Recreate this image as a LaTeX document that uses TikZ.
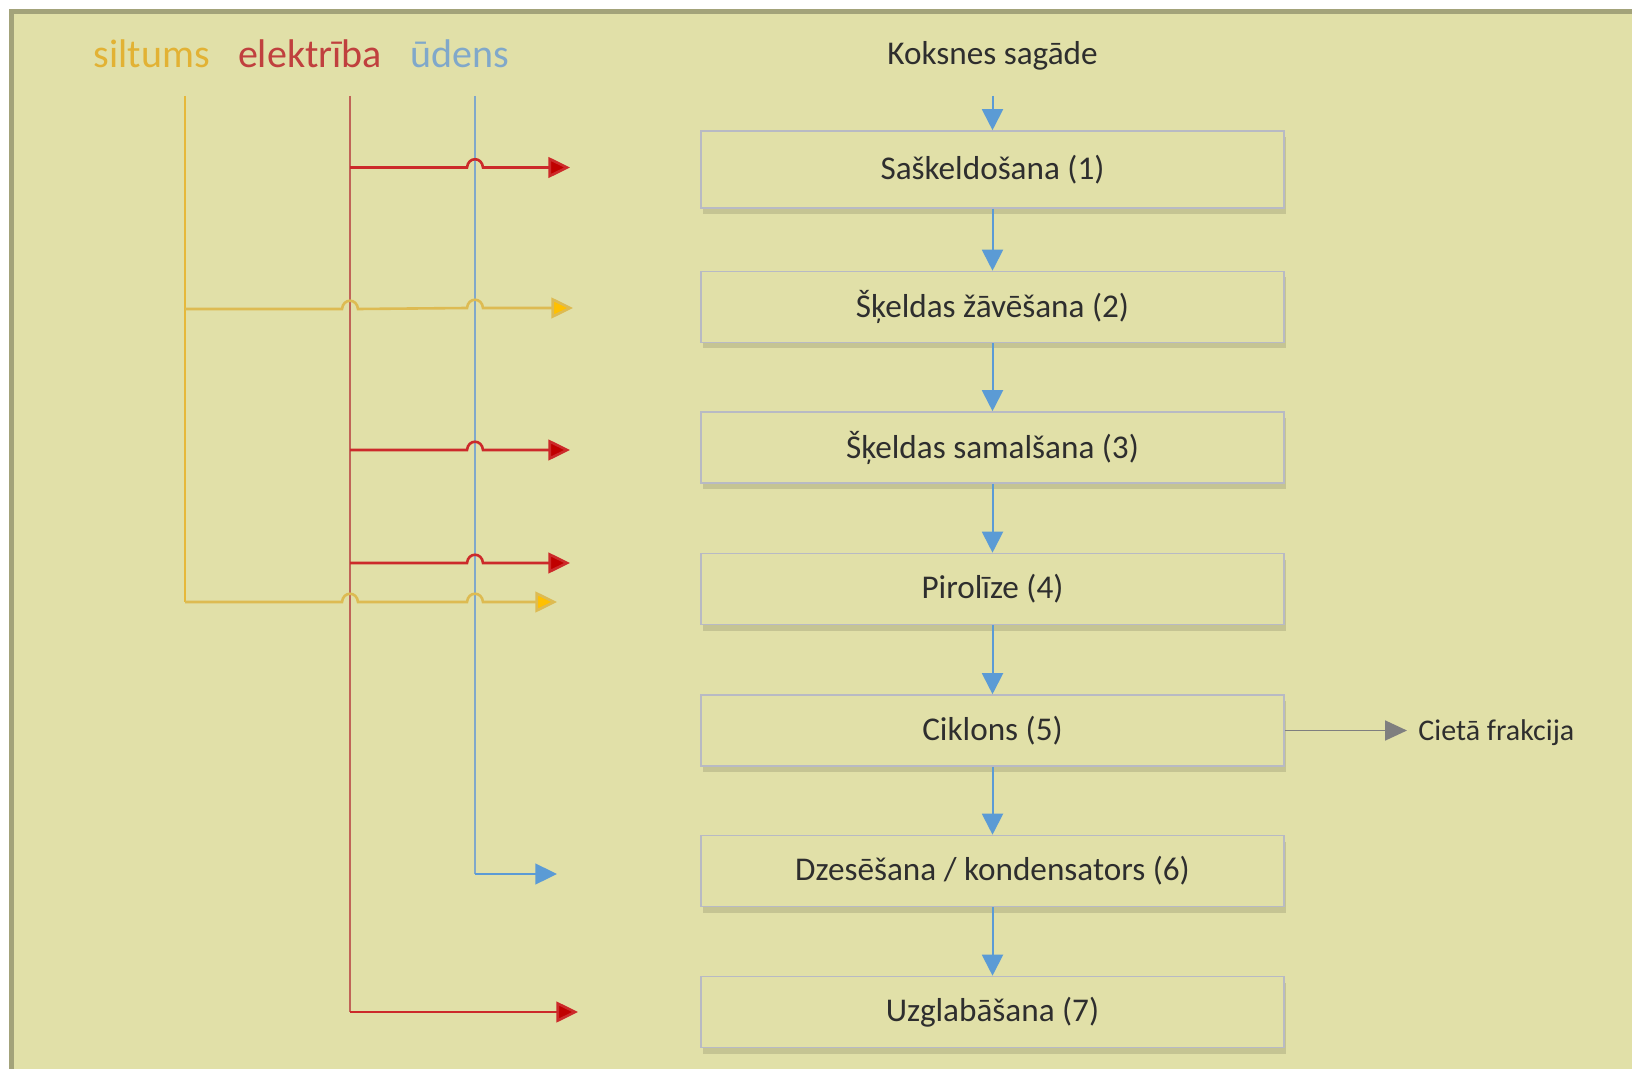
\documentclass[tikz,border=0pt]{standalone}
\usepackage{fontspec}
\setmainfont{Carlito}
\usetikzlibrary{arrows.meta,shadows}
\definecolor{bgfill}{HTML}{E1E0A8}
\definecolor{framec}{HTML}{A3A37A}
\definecolor{boxline}{HTML}{B8BAC4}
\definecolor{txt}{HTML}{2E2E2E}
\definecolor{heatv}{HTML}{E6B83A}
\definecolor{heath}{HTML}{DDBB52}
\definecolor{heattip}{HTML}{FFC000}
\definecolor{elecv}{HTML}{C06458}
\definecolor{elech}{HTML}{CC2A2A}
\definecolor{electip}{HTML}{C00000}
\definecolor{waterv}{HTML}{80A8CA}
\definecolor{flowc}{HTML}{5B9BD5}
\definecolor{grayarr}{HTML}{7F7F7F}
\definecolor{lblheat}{HTML}{E2B234}
\definecolor{lblelec}{HTML}{C0403E}
\definecolor{lblwater}{HTML}{80A8CA}
\begin{document}
\begin{tikzpicture}[x=0.5pt,y=-0.5pt,
  stepbox/.style={draw=boxline, line width=0.8pt, fill=bgfill,
    minimum width=291.5pt, minimum height=35.5pt, inner sep=0pt,
    font=\fontsize{16.6}{20}\selectfont, text=txt,
    drop shadow={shadow xshift=0.8pt, shadow yshift=-3pt, fill=black, opacity=0.12}},
  flowarrow/.style={draw=flowc, line width=1pt, -{Triangle[length=10.5pt,width=10.5pt]}},
  tipped/.style={-{Triangle[length=10.8pt,width=10.3pt]}},
  legend/.style={font=\fontsize{20}{24}\selectfont, anchor=base},
  heatvline/.style={draw=heatv, line width=1.1pt},
  heathline/.style={draw=heath, line width=1.3pt, tipped, -{Triangle[length=10.8pt,width=10.3pt,fill=heattip]}},
  elecvline/.style={draw=elecv, line width=1.2pt},
  elechline/.style={draw=elech, line width=1.3pt, -{Triangle[length=10.8pt,width=10.3pt,fill=electip]}},
  watervline/.style={draw=waterv, line width=1.1pt},
  waterhline/.style={draw=flowc, line width=1.2pt, -{Triangle[length=10.8pt,width=10.3pt]}},
  grayline/.style={draw=grayarr, line width=0.9pt, -{Triangle[length=11pt,width=10pt]}}
]
\useasboundingbox (0,0) rectangle (1632,1069);
\fill[white] (0,0) rectangle (1632,1069);
\draw[draw=framec, line width=2.5pt, fill=bgfill] (11.5,12) rectangle (1700,1120);

% legend labels
\node[legend, text=lblheat] (lsil) at (152,68) {siltums};
\node[legend, text=lblelec] (lele) at (310,68) {elektrība};
\node[legend, text=lblwater] (lwat) at (460,68) {ūdens};

% main chain
\node[anchor=base, font=\fontsize{16.6}{20}\selectfont, text=txt] (ks) at (992.5,65) {Koksnes sagāde};
\node[stepbox, minimum height=38.5pt] (b1) at (992.5,169.5) {Saškeldošana (1)};
\node[stepbox] (b2) at (992.5,307) {Šķeldas žāvēšana (2)};
\node[stepbox] (b3) at (992.5,447.5) {Šķeldas samalšana (3)};
\node[stepbox] (b4) at (992.5,589) {Pirolīze (4)};
\node[stepbox] (b5) at (992.5,730.5) {Ciklons (5)};
\node[stepbox] (b6) at (992.5,871) {Dzesēšana / kondensators (6)};
\node[stepbox] (b7) at (992.5,1012) {Uzglabāšana (7)};
\node[anchor=base west, inner xsep=5.5pt, font=\fontsize{15}{18}\selectfont, text=txt] (cf) at (1407,740) {Cietā frakcija};

\coordinate (ksout) at (992.5,96);
\draw[flowarrow] (ksout) -- (b1.north);
\draw[flowarrow] (b1) -- (b2);
\draw[flowarrow] (b2) -- (b3);
\draw[flowarrow] (b3) -- (b4);
\draw[flowarrow] (b4) -- (b5);
\draw[flowarrow] (b5) -- (b6);
\draw[flowarrow] (b6) -- (b7);
\draw[grayline] (b5.east) -- (b5.east -| cf.west);

% utility lines
\coordinate (stop) at (185,96);
\coordinate (sbot) at (185,602);
\coordinate (etop) at (350,96);
\coordinate (ebot) at (350,1012);
\coordinate (wtop) at (475,96);
\coordinate (wbot) at (475,874);

\coordinate (e1) at (570,167.5);
\coordinate (h1) at (573,308);
\coordinate (e2) at (570,450);
\coordinate (e3) at (570,563);
\coordinate (h2) at (557,602);
\coordinate (w1) at (557,874);
\coordinate (e4) at (578,1012);

\draw[heatvline] (stop) -- (sbot);
\draw[elecvline] (etop) -- (ebot);
\draw[watervline] (wtop) -- (wbot);

\draw[elechline] (350,167.5) -- (467,167.5) .. controls (468,156.5) and (482,156.5) .. (483,167.5) -- (e1);
\draw[heathline] (185,309) -- (342,309) .. controls (343,298) and (357,298) .. (358,309) -- (467,308) .. controls (468,297) and (482,297) .. (483,308) -- (h1);
\draw[elechline] (350,450) -- (467,450) .. controls (468,439) and (482,439) .. (483,450) -- (e2);
\draw[elechline] (350,563) -- (467,563) .. controls (468,552) and (482,552) .. (483,563) -- (e3);
\draw[heathline] (sbot) -- (342,602) .. controls (343,591) and (357,591) .. (358,602) -- (467,602) .. controls (468,591) and (482,591) .. (483,602) -- (h2);
\draw[waterhline] (wbot) -- (w1);
\draw[elechline] (ebot) -- (e4);
\end{tikzpicture}
\end{document}
